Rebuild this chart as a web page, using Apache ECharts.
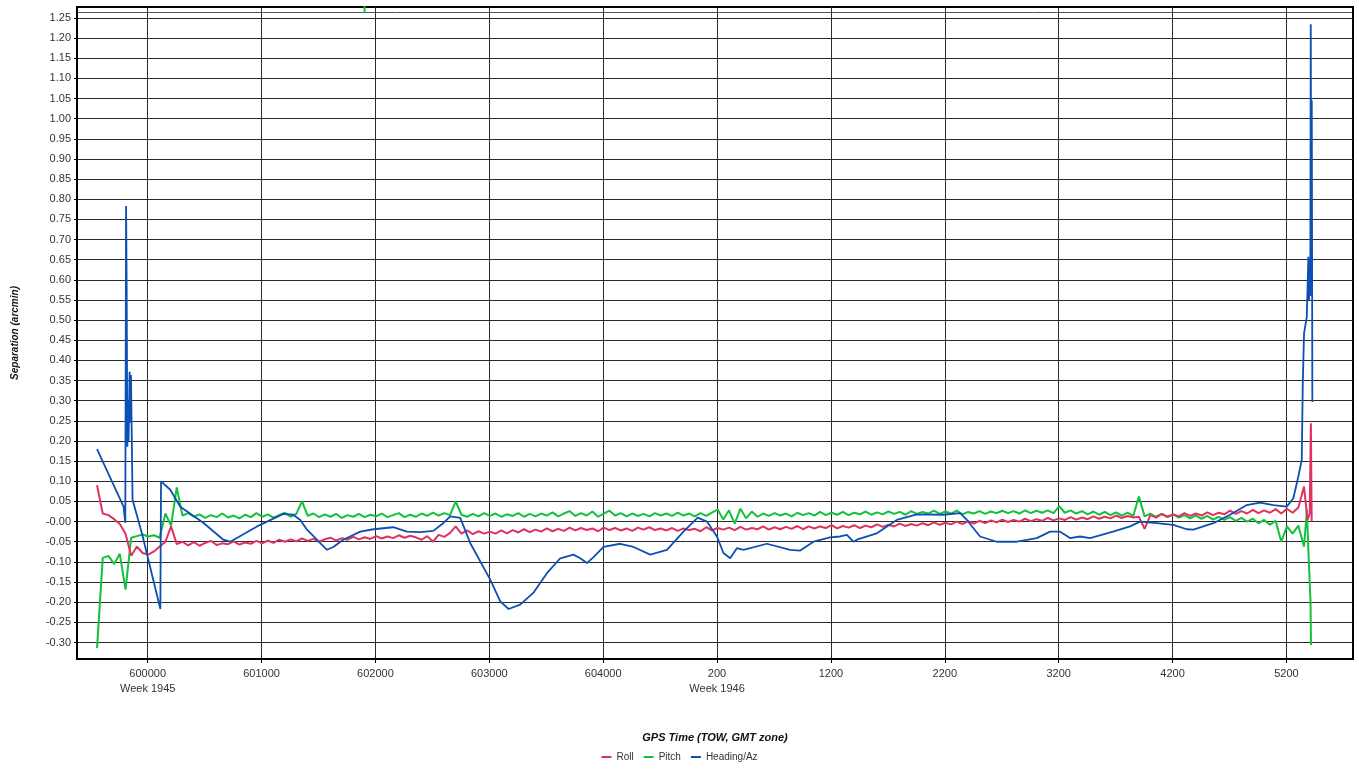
<!DOCTYPE html>
<html>
<head>
<meta charset="utf-8">
<script src="https://cdn.jsdelivr.net/npm/echarts@6/dist/echarts.min.js"></script>
<style>
  html, body { margin: 0; padding: 0; background: #fff; }
  #chart { width: 1359px; height: 770px; }
</style>
</head>
<body>
<div id="chart"></div>
<script>
// GPS time is kept as seconds from the start of week 1945 (week 1946 starts at 604800)
const xTickValues = [600000, 601000, 602000, 603000, 604000, 605000, 606000, 607000, 608000, 609000, 610000]
const xTickLabels = ['600000\nWeek 1945', '601000', '602000', '603000', '604000', '200\nWeek 1946', '1200', '2200', '3200', '4200', '5200']

const yTickValues = [-0.30, -0.25, -0.20, -0.15, -0.10, -0.05, 0.00, 0.05, 0.10, 0.15, 0.20, 0.25, 0.30, 0.35, 0.40, 0.45,
	0.50, 0.55, 0.60, 0.65, 0.70, 0.75, 0.80, 0.85, 0.90, 0.95, 1.00, 1.05, 1.10, 1.15, 1.20, 1.25]
const yTickLabels = ['-0.30', '-0.25', '-0.20', '-0.15', '-0.10', '-0.05', '-0.00', '0.05', '0.10', '0.15', '0.20', '0.25', '0.30', '0.35', '0.40', '0.45',
	'0.50', '0.55', '0.60', '0.65', '0.70', '0.75', '0.80', '0.85', '0.90', '0.95', '1.00', '1.05', '1.10', '1.15', '1.20', '1.25']

// roll and pitch are logged every 50 s
const sampleStart = 599555
const sampleStep = 50

const rollValues = [
	0.09, 0.02, 0.016, 0.006, -0.006, -0.03, -0.085, -0.062, -0.078, -0.082,
	-0.074, -0.062, -0.05, -0.012, -0.056, -0.05, -0.059, -0.051, -0.06, -0.053,
	-0.048, -0.058, -0.054, -0.056, -0.049, -0.057, -0.052, -0.055, -0.048, -0.054,
	-0.047, -0.053, -0.045, -0.05, -0.044, -0.049, -0.042, -0.048, -0.043, -0.05,
	-0.044, -0.04, -0.047, -0.041, -0.045, -0.038, -0.044, -0.039, -0.043, -0.036,
	-0.042, -0.037, -0.041, -0.034, -0.04, -0.035, -0.039, -0.045, -0.036, -0.05,
	-0.033, -0.038, -0.028, -0.012, -0.03, -0.022, -0.031, -0.024, -0.03, -0.025,
	-0.03, -0.022, -0.029, -0.021, -0.027, -0.019, -0.026, -0.02, -0.025, -0.017,
	-0.024, -0.018, -0.023, -0.015, -0.022, -0.016, -0.021, -0.017, -0.024, -0.015,
	-0.021, -0.016, -0.022, -0.017, -0.023, -0.015, -0.02, -0.014, -0.021, -0.017,
	-0.022, -0.016, -0.023, -0.017, -0.021, -0.018, -0.024, -0.014, -0.022, -0.016,
	-0.02, -0.015, -0.021, -0.013, -0.02, -0.016, -0.019, -0.012, -0.02, -0.014,
	-0.019, -0.013, -0.018, -0.011, -0.019, -0.012, -0.017, -0.012, -0.016, -0.009,
	-0.017, -0.011, -0.015, -0.009, -0.016, -0.01, -0.014, -0.007, -0.013, -0.008,
	-0.012, -0.005, -0.011, -0.006, -0.01, -0.004, -0.009, -0.002, -0.008, -0.003,
	-0.007, 0.0, -0.006, 0.001, -0.005, 0.002, -0.004, 0.003, -0.002, 0.005,
	-0.001, 0.004, 0.0, 0.007, 0.001, 0.006, 0.002, 0.009, 0.003, 0.008,
	0.004, 0.011, 0.005, 0.01, 0.006, 0.013, 0.007, 0.012, 0.008, 0.015,
	0.009, 0.014, 0.01, 0.012, -0.018, 0.016, 0.01, 0.019, 0.012, 0.018,
	0.013, 0.021, 0.014, 0.02, 0.015, 0.023, 0.016, 0.022, 0.018, 0.027,
	0.019, 0.026, 0.02, 0.029, 0.021, 0.028, 0.022, 0.031, 0.02, 0.032,
	0.022, 0.035, 0.087
]
const rollTail = [[610185, 0.004], [610205, 0.02], [610215, 0.244], [610222, 0.0]]

const pitchValues = [
	-0.314, -0.09, -0.085, -0.105, -0.08, -0.169, -0.04, -0.036, -0.032, -0.037,
	-0.034, -0.04, 0.02, -0.01, 0.085, 0.015, 0.021, 0.012, 0.018, 0.009,
	0.016, 0.011, 0.02, 0.01, 0.015, 0.008, 0.017, 0.011, 0.021, 0.012,
	0.018, 0.01, 0.016, 0.022, 0.012, 0.019, 0.05, 0.014, 0.02, 0.011,
	0.018, 0.012, 0.019, 0.009, 0.016, 0.012, 0.019, 0.011, 0.017, 0.013,
	0.02, 0.011, 0.016, 0.021, 0.011, 0.017, 0.012, 0.02, 0.014, 0.022,
	0.015, 0.021, 0.016, 0.05, 0.017, 0.012, 0.019, 0.013, 0.021, 0.014,
	0.02, 0.012, 0.018, 0.014, 0.021, 0.012, 0.019, 0.013, 0.02, 0.015,
	0.023, 0.013, 0.02, 0.026, 0.014, 0.021, 0.015, 0.025, 0.012, 0.02,
	0.027, 0.015, 0.021, 0.013, 0.02, 0.014, 0.019, 0.013, 0.021, 0.015,
	0.02, 0.014, 0.022, 0.015, 0.02, 0.013, 0.021, 0.014, 0.022, 0.03,
	0.005, 0.028, -0.005, 0.032, 0.008, 0.025, 0.012, 0.02, 0.014, 0.021,
	0.015, 0.02, 0.013, 0.022, 0.016, 0.021, 0.015, 0.024, 0.016, 0.022,
	0.017, 0.024, 0.016, 0.022, 0.018, 0.025, 0.017, 0.023, 0.018, 0.025,
	0.019, 0.024, 0.017, 0.026, 0.019, 0.024, 0.02, 0.027, 0.019, 0.025,
	0.02, 0.027, 0.018, 0.024, 0.02, 0.026, 0.019, 0.025, 0.021, 0.027,
	0.021, 0.026, 0.02, 0.028, 0.021, 0.027, 0.022, 0.028, 0.021, 0.038,
	0.022, 0.028, 0.02, 0.026, 0.018, 0.025, 0.017, 0.024, 0.016, 0.023,
	0.015, 0.022, 0.014, 0.062, 0.013, 0.02, 0.012, 0.019, 0.011, 0.018,
	0.01, 0.016, 0.008, 0.015, 0.007, 0.014, 0.005, 0.012, 0.004, 0.011,
	0.002, 0.009, 0.0, 0.007, -0.004, 0.004, -0.008, 0.002, -0.05, -0.012,
	-0.03, -0.01, -0.062
]
const pitchTail = [[610180, 0.03], [610195, -0.085], [610212, -0.2], [610216, -0.306]]
// short pitch excursion above the top of the plot
const pitchTopMark = [[601904, 1.262], [601904, 1.3]]

const headingPoints = [
	[599555, 0.18], [599788, 0.037], [599803, -0.003], [599810, 0.783], [599815, 0.59], [599821, 0.186],
	[599827, 0.3], [599832, 0.2], [599841, 0.372], [599847, 0.245], [599853, 0.364], [599867, 0.054],
	[599950, -0.03], [600111, -0.217], [600117, 0.1], [600198, 0.079], [600286, 0.037], [600488, -0.003],
	[600664, -0.045], [600725, -0.05], [600960, -0.012], [601191, 0.019], [601278, 0.017], [601340, 0.004],
	[601399, -0.02], [601574, -0.07], [601630, -0.063], [601717, -0.045], [601867, -0.025], [601981, -0.019],
	[602156, -0.014], [602277, -0.025], [602393, -0.026], [602508, -0.023], [602595, -0.004], [602657, 0.013],
	[602745, 0.009], [602832, -0.053], [603008, -0.144], [603096, -0.198], [603169, -0.217], [603271, -0.206],
	[603386, -0.177], [603506, -0.128], [603623, -0.091], [603739, -0.082], [603798, -0.091], [603857, -0.103],
	[603915, -0.088], [604003, -0.063], [604149, -0.055], [604266, -0.063], [604413, -0.082], [604560, -0.07],
	[604705, -0.025], [604830, 0.01], [604911, 0.0], [604999, -0.037], [605056, -0.078], [605115, -0.091],
	[605174, -0.066], [605232, -0.07], [605438, -0.055], [605642, -0.07], [605730, -0.072], [605847, -0.05],
	[605993, -0.039], [606081, -0.037], [606140, -0.033], [606198, -0.05], [606228, -0.045], [606403, -0.029],
	[606579, 0.004], [606755, 0.018], [606988, 0.017], [607135, 0.021], [607194, 0.004], [607310, -0.037],
	[607457, -0.05], [607633, -0.05], [607808, -0.041], [607925, -0.025], [608013, -0.025], [608100, -0.041],
	[608188, -0.037], [608276, -0.041], [608478, -0.025], [608627, -0.012], [608715, 0.0], [608862, -0.004],
	[609007, -0.008], [609125, -0.019], [609183, -0.02], [609359, -0.004], [609505, 0.017], [609652, 0.041],
	[609769, 0.047], [609885, 0.041], [610003, 0.037], [610061, 0.058], [610105, 0.112], [610135, 0.153],
	[610144, 0.343], [610155, 0.467], [610179, 0.508], [610193, 0.657], [610199, 0.55], [610205, 0.65],
	[610210, 0.56], [610214, 1.234], [610219, 0.6], [610223, 1.045], [610228, 0.297]
]

const sampleTimes = rollValues.map((_, i) => sampleStart + i * sampleStep)
const rollData = rollValues.map((v, i) => [sampleTimes[i], v]).concat(rollTail)
const pitchData = pitchValues.map((v, i) => [sampleTimes[i], v]).concat(pitchTail)

const fontFamily = '"Liberation Sans", Arial, sans-serif'
const gridColor = '#2b2b2b'

const chart = echarts.init(document.getElementById('chart'), null, { renderer: 'canvas' })

const lineSeries = (name, data, color, width) => ({
	name,
	type: 'line',
	data,
	showSymbol: false,
	symbol: 'none',
	animation: false,
	lineStyle: { color, width },
	itemStyle: { color },
})

chart.setOption({
	backgroundColor: '#fff',
	animation: false,
	textStyle: { fontFamily },
	grid: {
		left: 77,
		right: 6,
		top: 7,
		bottom: 111,
		show: true,
		borderColor: '#000',
		borderWidth: 2,
	},
	legend: {
		bottom: 3,
		left: 'center',
		data: ['Roll', 'Pitch', 'Heading/Az'],
		icon: 'rect',
		itemWidth: 10,
		itemHeight: 2,
		itemGap: 10,
		textStyle: { fontSize: 10, color: '#333', fontFamily },
	},
	graphic: [
		{
			type: 'line',
			shape: { x1: 78, y1: 12.5, x2: 1352, y2: 12.5 },
			style: { stroke: '#555', lineWidth: 1 },
			silent: true,
		},
	],
	xAxis: {
		type: 'value',
		min: 599379,
		max: 610585,
		name: 'GPS Time (TOW, GMT zone)',
		nameLocation: 'middle',
		nameGap: 73,
		nameTextStyle: { fontSize: 11, fontWeight: 'bold', fontStyle: 'italic', color: '#111', fontFamily },
		axisLine: { show: true, onZero: false, lineStyle: { color: '#000', width: 2 } },
		axisTick: { show: true, length: 4, customValues: xTickValues, lineStyle: { color: '#000' } },
		axisLabel: {
			customValues: xTickValues,
			formatter: (v) => xTickLabels[xTickValues.indexOf(v)],
			color: '#333',
			fontSize: 11,
			lineHeight: 15,
			margin: 7,
		},
		splitLine: { show: true, customValues: xTickValues, lineStyle: { color: gridColor, width: 1 } },
	},
	yAxis: {
		type: 'value',
		min: -0.341,
		max: 1.277,
		name: 'Separation (arcmin)',
		nameLocation: 'middle',
		nameGap: 57,
		nameTextStyle: { fontSize: 10, fontWeight: 'bold', fontStyle: 'italic', color: '#111', fontFamily },
		axisLine: { show: true, onZero: false, lineStyle: { color: '#000', width: 2 } },
		axisTick: { show: true, length: 3, customValues: yTickValues, lineStyle: { color: '#000' } },
		axisLabel: {
			customValues: yTickValues,
			formatter: (v) => yTickLabels[yTickValues.findIndex((t) => Math.abs(t - v) < 1e-6)],
			color: '#333',
			fontSize: 11,
			margin: 6,
		},
		splitLine: { show: true, customValues: yTickValues, lineStyle: { color: gridColor, width: 1 } },
	},
	series: [
		lineSeries('Pitch', pitchData, '#14c03c', 2),
		lineSeries('Pitch', pitchTopMark, '#14c03c', 2),
		lineSeries('Roll', rollData, '#e0325f', 2),
		lineSeries('Heading/Az', headingPoints, '#0c4fb5', 1.8),
	],
})
</script>
</body>
</html>
